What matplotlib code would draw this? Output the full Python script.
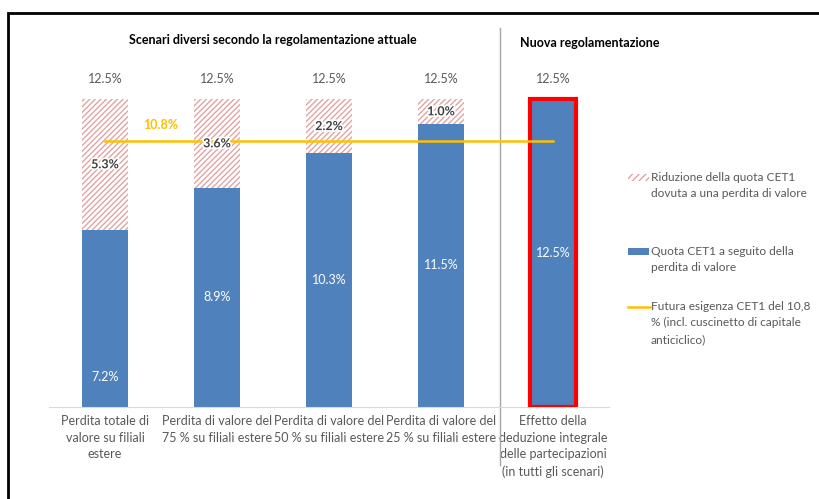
import numpy as np
import matplotlib.pyplot as plt
from matplotlib.patches import Rectangle
from matplotlib.lines import Line2D
import matplotlib.patheffects as pe

plt.rcParams['font.family'] = ['Lato', 'DejaVu Sans']

# Data
categories = ['Perdita totale di\nvalore su filiali\nestere',
              'Perdita di valore del\n75 % su filiali estere',
              'Perdita di valore del\n50 % su filiali estere',
              'Perdita di valore del\n25 % su filiali estere',
              'Effetto della\ndeduzione integrale\ndelle partecipazioni\n(in tutti gli scenari)']
quota = [7.2, 8.9, 10.3, 11.5, 12.5]
riduzione = [5.3, 3.6, 2.2, 1.0, 0.0]
totale = [12.5, 12.5, 12.5, 12.5, 12.5]
esigenza = 10.8

blue = '#4F81BD'
hatch_col = '#E3A3A3'
orange = '#FFC000'
grey = '#595959'

W, H = 819, 499
fig = plt.figure(figsize=(W / 100, H / 100), dpi=100)
ax = fig.add_axes([49 / W, (H - 407) / H, 560 / W, (407 - 30) / H])

x = np.arange(len(categories))
bw = 0.41
ax.bar(x, quota, bw, color=blue, zorder=2)
ax.bar(x[:4], riduzione[:4], bw, bottom=quota[:4], color='none',
       edgecolor=hatch_col, hatch='//////', linewidth=0, zorder=2)
# red frame on the last bar
ax.bar(x[4], quota[4], bw, color='none', edgecolor='#FF0000', linewidth=3, zorder=3)

ax.plot([x[0], x[-1]], [esigenza, esigenza], color=orange, lw=1.8, zorder=4)
ax.text(0.5, esigenza + 0.65, f'{esigenza:.1f}%', color=orange, fontsize=9,
        fontweight='bold', ha='center', va='center')

glow = [pe.withStroke(linewidth=2.5, foreground='white')]
for i in range(len(categories)):
    ax.annotate(f'{totale[i]:.1f}%', (x[i], totale[i]), xytext=(0, 10),
                textcoords='offset points', ha='center', va='bottom',
                color=grey, fontsize=9)
    yq = quota[i] / 2 if i > 0 else quota[i] * 0.17
    ax.text(x[i], yq, f'{quota[i]:.1f}%', color='white', fontsize=9,
            ha='center', va='center', zorder=5)
    if riduzione[i] > 0:
        ax.text(x[i], quota[i] + riduzione[i] / 2, f'{riduzione[i]:.1f}%',
                color='#404040', fontsize=9, fontweight='bold',
                ha='center', va='center', zorder=5, path_effects=glow)

ax.set_xlim(-0.5, 4.5)
ax.set_ylim(0, 15.3)
ax.set_yticks([])
ax.set_xticks(x)
ax.set_xticklabels(categories, fontsize=9, color=grey, linespacing=1.45)
ax.tick_params(axis='x', length=0, pad=6)
for s in ['top', 'right', 'left']:
    ax.spines[s].set_visible(False)
ax.spines['bottom'].set_color('#D9D9D9')

# divider between current and new regulation
ax.axvline(3.53, ymin=-0.154, ymax=1.005, color='#A6A6A6', lw=1, clip_on=False)

ax.text(1.5, 1.0 - 10 / 377, 'Scenari diversi secondo la regolamentazione attuale',
        transform=ax.get_xaxis_transform(), ha='center', va='center',
        fontsize=9, fontweight='bold', color='black')
ax.text(4.33, 1.0 - 13 / 377, 'Nuova regolamentazione',
        transform=ax.get_xaxis_transform(), ha='center', va='center',
        fontsize=9, fontweight='bold', color='black')

# legend, drawn by hand so the keys sit on the first text line
labels = ['Riduzione della quota CET1\ndovuta a una perdita di valore',
          'Quota CET1 a seguito della\nperdita di valore',
          'Futura esigenza CET1 del 10,8\n% (incl. cuscinetto di capitale\nanticiclico)']
leg_y = [178, 252, 307]
for i, (lab, yy) in enumerate(zip(labels, leg_y)):
    yf = 1 - yy / H
    if i == 0:
        fig.add_artist(Rectangle((628 / W, yf - 3 / H), 21 / W, 7 / H, transform=fig.transFigure,
                                 facecolor='none', edgecolor=hatch_col, hatch='/////', lw=0))
    elif i == 1:
        fig.add_artist(Rectangle((628 / W, yf - 3 / H), 21 / W, 7 / H, transform=fig.transFigure,
                                 facecolor=blue, lw=0))
    else:
        fig.add_artist(Line2D([628 / W, 650 / W], [yf, yf], transform=fig.transFigure,
                              color=orange, lw=1.8))
    fig.text(651 / W, yf + 6 / H, lab, ha='left', va='top', fontsize=8.6,
             color=grey, linespacing=1.6)

# outer frame
fig.add_artist(Rectangle((8 / W, -0.1), 1.2, 1.1 - 13 / H, transform=fig.transFigure,
                         fill=False, edgecolor='black', lw=2))

fig.savefig('out.png', dpi=100)
